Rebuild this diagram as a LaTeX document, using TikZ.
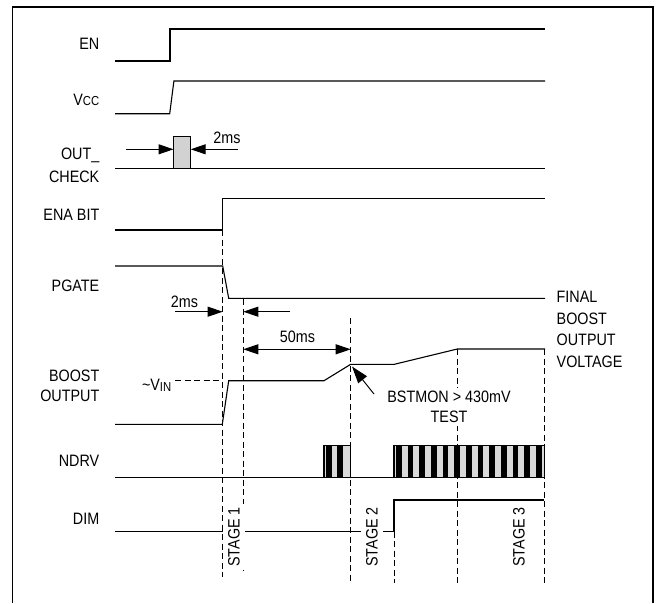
\documentclass[tikz,border=0pt]{standalone}
\usepackage{fontspec}
\setmainfont{Liberation Sans}[FakeStretch=0.87]
\usetikzlibrary{arrows.meta}
\begin{document}
\begin{tikzpicture}[x=1pt,y=-1pt,
  sig/.style={line width=1.1pt, line join=miter},
  vdash/.style={line width=0.9pt, dash pattern=on 6pt off 3.5pt},
  lbl/.style={font=\fontsize{16.5}{19}\selectfont, inner sep=0pt},
  dimarr/.style={line width=1pt, -{Triangle[length=15pt,width=10pt]}},
  stagelbl/.style={font=\fontsize{16.5}{19}\selectfont, rotate=90, fill=white, inner xsep=3pt, inner ysep=5pt},
  pulsefill/.style={fill=gray!30},
  stripe/.style={fill=black}
]
\useasboundingbox (0,0) rectangle (656,603);
% frame
\draw[line width=1.6pt] (12.5,603) -- (12.5,7) -- (653,7) -- (653,603);

% signal labels
\node[lbl, anchor=east] (lEN) at (99.5,44) {EN};
\node[lbl, anchor=east] (lVCC) at (99.5,100) {V{\fontsize{13}{14}\selectfont CC}};
\node[lbl, anchor=east, align=right, font=\fontsize{16.5}{23}\selectfont] (lOUT) at (99.5,165) {OUT\_\\CHECK};
\node[lbl, anchor=east] (lENA) at (99.5,214.5) {ENA BIT};
\node[lbl, anchor=east] (lPG) at (99.5,286) {PGATE};
\node[lbl, anchor=east, align=right, font=\fontsize{16.5}{19.5}\selectfont] (lBO) at (99.5,386) {BOOST\\OUTPUT};
\node[lbl, anchor=east] (lND) at (99.5,461) {NDRV};
\node[lbl, anchor=east] (lDIM) at (99.5,519) {DIM};

% EN
\draw[sig] (115,61) -- (170,61) -- (170,29) -- (545,29);
% VCC
\draw[sig] (115,113.7) -- (169.7,113.7) -- (173.9,81) -- (545,81);
% OUT_CHECK
\draw[sig] (115,168.3) -- (545,168.3);
\draw[line width=1pt, fill=gray!35] (173.5,168.3) rectangle (190.7,136);
\draw[dimarr] (126,149.3) -- (173.5,149.3);
\draw[dimarr] (238,149.3) -- (190.7,149.3);
\node[lbl] (t2a) at (227,137.5) {2ms};
% ENA BIT
\draw[sig] (115,230) -- (222.7,230) -- (222.7,198.3) -- (545,198.3);
% PGATE
\draw[sig] (115,266) -- (222.7,266) -- (228.7,298.3) -- (545,298.3);
\node[lbl, anchor=west, align=left, font=\fontsize{16.5}{21.5}\selectfont] (lfin) at (556.5,329.3) {FINAL\\BOOST\\OUTPUT\\VOLTAGE};
% 2ms arrows
\draw[dimarr] (175,311.7) -- (222.7,311.7);
\draw[dimarr] (290,311.7) -- (243.3,311.7);
\node[lbl] (t2b) at (184.5,301.5) {2ms};
% 50ms
\draw[line width=1pt, {Triangle[length=15pt,width=10pt]}-{Triangle[length=15pt,width=10pt]}] (243.3,349.3) -- (350.7,349.3);
\node[lbl] (t50) at (297.5,337) {50ms};
% BOOST OUTPUT
\draw[sig] (115,424.3) -- (222.3,424.3) -- (228.7,380.7) -- (324,380.7) -- (350.7,364.3) -- (394.3,364.3) -- (457.3,349) -- (545,349);
\draw[vdash] (175,380.7) -- (222,380.7);
\node[lbl, anchor=base east] (lvin) at (171.5,390) {\textasciitilde V\raisebox{-1.8pt}{\fontsize{13}{14}\selectfont IN}};
% NDRV
\draw[sig] (115,477.3) -- (545,477.3);
\fill[pulsefill] (324,445.5) rectangle (350.7,477.3);
\foreach \k in {0,1} \fill[stripe] (325.7+\k*11.6,445.5) rectangle (331.5+\k*11.6,477.3);
\draw[sig] (324,477.3) -- (324,445.5) -- (350.7,445.5) -- (350.7,477.3);
\fill[pulsefill] (394,445.5) rectangle (544.3,477.3);
\foreach \k in {0,...,12} \fill[stripe] (396+\k*11.65,445.5) rectangle (401.8+\k*11.65,477.3);
\draw[sig] (394,477.3) -- (394,445.5) -- (544.3,445.5) -- (544.3,477.3);
% DIM
\draw[sig] (115,531.7) -- (394,531.7) -- (394,500) -- (544.3,500);

% vertical dashed markers
\draw[vdash] (222.7,230) -- (222.7,577);
\draw[vdash] (243.3,299) -- (243.3,574);
\draw[vdash] (350.7,318) -- (350.7,584);
\draw[vdash] (394,531.7) -- (394,583);
\draw[vdash] (457.5,349) -- (457.5,584);
\draw[vdash] (544.3,349) -- (544.3,584);

% BSTMON annotation
\node[lbl, align=center, fill=white, inner sep=3pt, font=\fontsize{16.5}{19.5}\selectfont] (bst) at (449,407) {BSTMON > 430mV\\TEST};
\coordinate (bsttip) at (352,366.5);
\draw[line width=1pt, -{Triangle[length=17pt,width=11pt]}] (374,394) -- (bsttip);

% stage labels
\node[stagelbl] (s1) at (234,537) {STAGE 1};
\node[stagelbl] (s2) at (372,537) {STAGE 2};
\node[stagelbl] (s3) at (519,537) {STAGE 3};
\end{tikzpicture}
\end{document}
